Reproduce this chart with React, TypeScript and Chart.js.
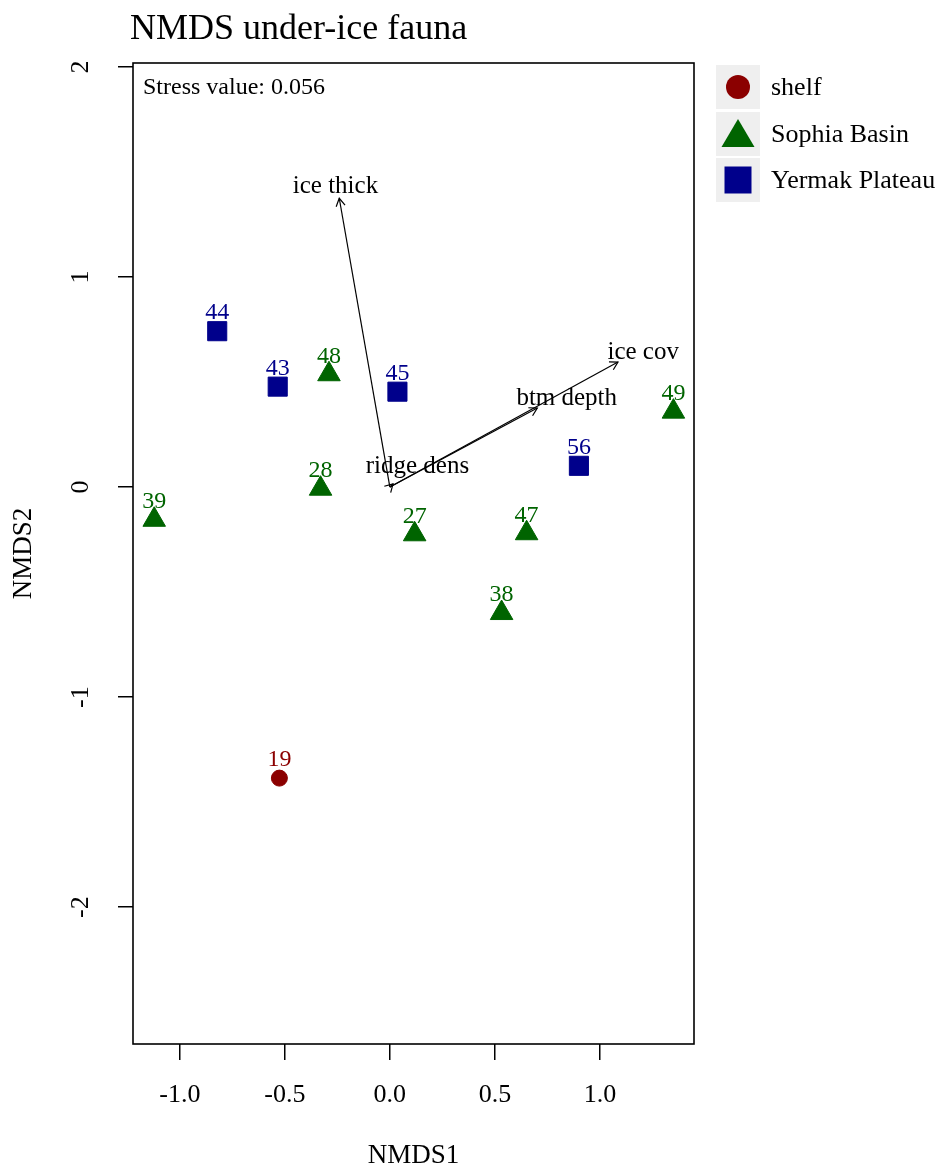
import React, { useEffect, useRef } from 'react';
import { Chart, registerables } from 'chart.js';

Chart.register(...registerables);

const FONT = '"Liberation Serif", "Times New Roman", serif';

// Axis ranges and ticks
const xRange = [-1.223, 1.448];
const yRange = [-2.652, 2.019];
const xTickValues = [-1.0, -0.5, 0.0, 0.5, 1.0];
const yTickValues = [-2, -1, 0, 1, 2];

// Groups
const groupNames = ['shelf', 'Sophia Basin', 'Yermak Plateau'];
const groupColors = ['#8B0000', '#006400', '#00008B'];

// Sites: shelf
const shelfLabels = ['19'];
const shelfX = [-0.526];
const shelfY = [-1.386];

// Sites: Sophia Basin
const sophiaLabels = ['39', '28', '48', '27', '47', '38', '49'];
const sophiaX = [-1.122, -0.33, -0.29, 0.118, 0.651, 0.532, 1.35];
const sophiaY = [-0.156, -0.008, 0.537, -0.225, -0.22, -0.6, 0.359];

// Sites: Yermak Plateau
const yermakLabels = ['44', '43', '45', '56'];
const yermakX = [-0.822, -0.534, 0.036, 0.9];
const yermakY = [0.742, 0.478, 0.454, 0.101];

// Environmental fit vectors
const envNames = ['ice thick', 'ice cov', 'btm depth', 'ridge dens'];
const envX = [-0.241, 1.086, 0.702, 0.015];
const envY = [1.375, 0.595, 0.376, 0.015];
const envLabelX = [-0.259, 1.206, 0.842, 0.131];
const envLabelY = [1.429, 0.643, 0.424, 0.1];

const titleText = 'NMDS under-ice fauna';
const stressText = 'Stress value: 0.056';

const pts = (xs: number[], ys: number[]) => xs.map((x, i) => ({ x, y: ys[i] }));

const customPlugin = {
  id: 'customDraw',
  beforeDraw(chart: any) {
    const ctx = chart.ctx;
    ctx.save();
    ctx.fillStyle = '#ffffff';
    ctx.fillRect(0, 0, chart.width, chart.height);
    ctx.restore();
  },
  beforeDatasetsDraw(chart: any) {
    const ctx = chart.ctx;
    const xs = chart.scales.x;
    const ys = chart.scales.y;
    ctx.save();
    ctx.font = `25px ${FONT}`;
    ctx.fillStyle = '#000000';
    ctx.textAlign = 'center';
    ctx.textBaseline = 'middle';
    envNames.forEach((n, i) => {
      ctx.fillText(n, xs.getPixelForValue(envLabelX[i]), ys.getPixelForValue(envLabelY[i]));
    });
    ctx.restore();
  },
  afterDatasetsDraw(chart: any) {
    const ctx = chart.ctx;
    const xs = chart.scales.x;
    const ys = chart.scales.y;
    ctx.save();
    // arrowheads
    ctx.strokeStyle = '#000000';
    ctx.lineWidth = 1.2;
    envNames.forEach((_, i) => {
      const ox = xs.getPixelForValue(0);
      const oy = ys.getPixelForValue(0);
      const tx = xs.getPixelForValue(envX[i]);
      const ty = ys.getPixelForValue(envY[i]);
      const ang = Math.atan2(ty - oy, tx - ox);
      const L = 9;
      const a = Math.PI / 6;
      ctx.beginPath();
      ctx.moveTo(tx - L * Math.cos(ang - a), ty - L * Math.sin(ang - a));
      ctx.lineTo(tx, ty);
      ctx.lineTo(tx - L * Math.cos(ang + a), ty - L * Math.sin(ang + a));
      ctx.stroke();
    });
    // point labels
    ctx.font = `24px ${FONT}`;
    ctx.textAlign = 'center';
    ctx.textBaseline = 'middle';
    chart.data.datasets.forEach((ds: any, di: number) => {
      if (!ds.siteLabels) return;
      const meta = chart.getDatasetMeta(di);
      ctx.fillStyle = ds.backgroundColor;
      meta.data.forEach((el: any, j: number) => {
        ctx.fillText(ds.siteLabels[j], el.x, el.y - 18);
      });
    });
    // frame
    const ca = chart.chartArea;
    ctx.lineWidth = 1.6;
    ctx.strokeStyle = '#000000';
    ctx.strokeRect(ca.left, ca.top, ca.right - ca.left, ca.bottom - ca.top);
    ctx.restore();
  },
  afterDraw(chart: any) {
    const ctx = chart.ctx;
    const ca = chart.chartArea;
    ctx.save();
    // title
    ctx.fillStyle = '#000000';
    ctx.font = `36px ${FONT}`;
    ctx.textAlign = 'left';
    ctx.textBaseline = 'alphabetic';
    ctx.fillText(titleText, 130, 39);
    // stress
    ctx.font = `24px ${FONT}`;
    ctx.fillText(stressText, ca.left + 10, 94);
    // legend
    const boxX = 716;
    const boxW = 44;
    const boxTops = [65, 112, 158];
    const boxH = 44;
    groupNames.forEach((name, i) => {
      const top = boxTops[i];
      const cx = boxX + boxW / 2;
      const cy = top + boxH / 2;
      ctx.fillStyle = '#efefef';
      ctx.fillRect(boxX, top, boxW, boxH);
      ctx.fillStyle = groupColors[i];
      ctx.strokeStyle = groupColors[i];
      ctx.beginPath();
      if (i === 0) {
        ctx.arc(cx, cy, 12, 0, Math.PI * 2);
      } else if (i === 1) {
        ctx.moveTo(cx, cy - 15);
        ctx.lineTo(cx + 16.5, cy + 13);
        ctx.lineTo(cx - 16.5, cy + 13);
        ctx.closePath();
      } else {
        ctx.rect(cx - 13.5, cy - 13.5, 27, 27);
      }
      ctx.fill();
      ctx.fillStyle = '#000000';
      ctx.font = `26px ${FONT}`;
      ctx.textAlign = 'left';
      ctx.textBaseline = 'middle';
      ctx.fillText(name, 771, cy + 1);
    });
    ctx.restore();
  },
};

export default function App() {
  const ref = useRef<HTMLCanvasElement>(null);

  useEffect(() => {
    if (!ref.current) return;
    Chart.defaults.font.family = FONT;
    const arrowSets = envNames.map((n, i) => ({
      type: 'line' as const,
      label: n,
      data: [
        { x: 0, y: 0 },
        { x: envX[i], y: envY[i] },
      ],
      showLine: true,
      borderColor: '#000000',
      borderWidth: 1.2,
      pointRadius: 0,
      fill: false,
    }));
    const chart = new Chart(ref.current, {
      type: 'scatter',
      data: {
        datasets: [
          {
            label: groupNames[0],
            data: pts(shelfX, shelfY),
            siteLabels: shelfLabels,
            pointStyle: 'circle',
            pointRadius: 8,
            backgroundColor: groupColors[0],
            borderColor: groupColors[0],
            borderWidth: 1,
          } as any,
          {
            label: groupNames[1],
            data: pts(sophiaX, sophiaY),
            siteLabels: sophiaLabels,
            pointStyle: 'triangle',
            pointRadius: 13,
            backgroundColor: groupColors[1],
            borderColor: groupColors[1],
            borderWidth: 1,
          } as any,
          {
            label: groupNames[2],
            data: pts(yermakX, yermakY),
            siteLabels: yermakLabels,
            pointStyle: 'rect',
            pointRadius: 13.5,
            backgroundColor: groupColors[2],
            borderColor: groupColors[2],
            borderWidth: 1,
          } as any,
          ...(arrowSets as any[]),
        ],
      },
      options: {
        animation: false,
        responsive: false,
        maintainAspectRatio: false,
        events: [],
        layout: { padding: { left: 0, top: 63, right: 256, bottom: 0 } },
        plugins: {
          legend: { display: false },
          tooltip: { enabled: false },
          title: { display: false },
        },
        scales: {
          x: {
            type: 'linear',
            position: 'bottom',
            min: xRange[0],
            max: xRange[1],
            afterBuildTicks: (s: any) => {
              s.ticks = xTickValues.map((v) => ({ value: v }));
            },
            afterFit: (s: any) => {
              s.height = 131;
            },
            ticks: {
              color: '#000000',
              font: { family: FONT, size: 26 },
              padding: 20,
              maxRotation: 0,
              autoSkip: false,
              callback: (v: any) => Number(v).toFixed(1),
            },
            grid: {
              display: true,
              drawOnChartArea: false,
              drawTicks: true,
              tickLength: 16,
              color: '#000000',
              lineWidth: 1.5,
            },
            border: { display: false },
            title: {
              display: true,
              text: 'NMDS1',
              color: '#000000',
              font: { family: FONT, size: 27, lineHeight: 1 },
              padding: { top: 0, bottom: 6 },
            },
          },
          y: {
            type: 'linear',
            position: 'left',
            min: yRange[0],
            max: yRange[1],
            afterBuildTicks: (s: any) => {
              s.ticks = yTickValues.map((v) => ({ value: v }));
            },
            afterFit: (s: any) => {
              s.width = 133;
            },
            ticks: {
              color: '#000000',
              font: { family: FONT, size: 26 },
              padding: 26,
              minRotation: 90,
              maxRotation: 90,
              crossAlign: 'center',
              autoSkip: false,
              callback: (v: any) => String(v),
            },
            grid: {
              display: true,
              drawOnChartArea: false,
              drawTicks: true,
              tickLength: 15,
              color: '#000000',
              lineWidth: 1.5,
            },
            border: { display: false },
            title: {
              display: true,
              text: 'NMDS2',
              color: '#000000',
              font: { family: FONT, size: 27, lineHeight: 1 },
              padding: { top: 10, bottom: 0 },
            },
          },
        },
      } as any,
      plugins: [customPlugin],
    });
    return () => chart.destroy();
  }, []);

  return (
    <div style={{ position: 'absolute', left: 0, top: 0, width: 950, height: 1175, background: '#ffffff' }}>
      <canvas ref={ref} width={950} height={1175} style={{ display: 'block', width: 950, height: 1175 }} />
    </div>
  );
}
